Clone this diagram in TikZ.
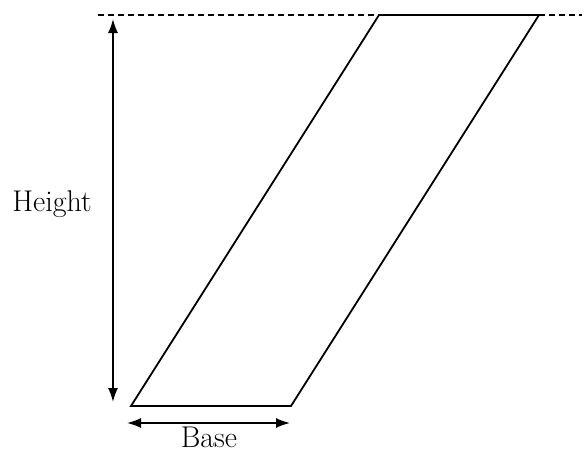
\documentclass[tikz,border=0pt]{standalone}
\usetikzlibrary{arrows.meta}
\begin{document}
\begin{tikzpicture}[x=1pt,y=-1pt,
  shape line/.style={line width=1.8pt,line join=miter},
  dim/.style={line width=1.6pt,{Latex[length=14pt,width=10pt]}-{Latex[length=14pt,width=10pt]}},
  lbl/.style={font=\fontsize{30}{34}\selectfont,inner sep=0pt}]
\useasboundingbox (0,0) rectangle (586,453);
\coordinate (bl) at (131,406);
\coordinate (br) at (291,406);
\coordinate (tr) at (539,15);
\coordinate (tl) at (379,15);
\draw[shape line] (bl) -- (br) -- (tr) -- (tl) -- cycle;
\coordinate (dl) at (98,15);
\coordinate (dr) at (582,15);
\draw[line width=1.4pt,dash pattern=on 6pt off 4pt] (dl) -- (tl);
\draw[line width=1.4pt,dash pattern=on 6pt off 4pt] (tr) -- (dr);
\coordinate (ht) at (113,19);
\coordinate (hb) at (113,402);
\draw[dim] (ht) -- (hb);
\coordinate (ba) at (127,423);
\coordinate (bb) at (290,423);
\draw[dim] (ba) -- (bb);
\node[lbl] (height) at (52,204) {Height};
\node[lbl] (base) at (209,437) {Base};
\end{tikzpicture}
\end{document}
